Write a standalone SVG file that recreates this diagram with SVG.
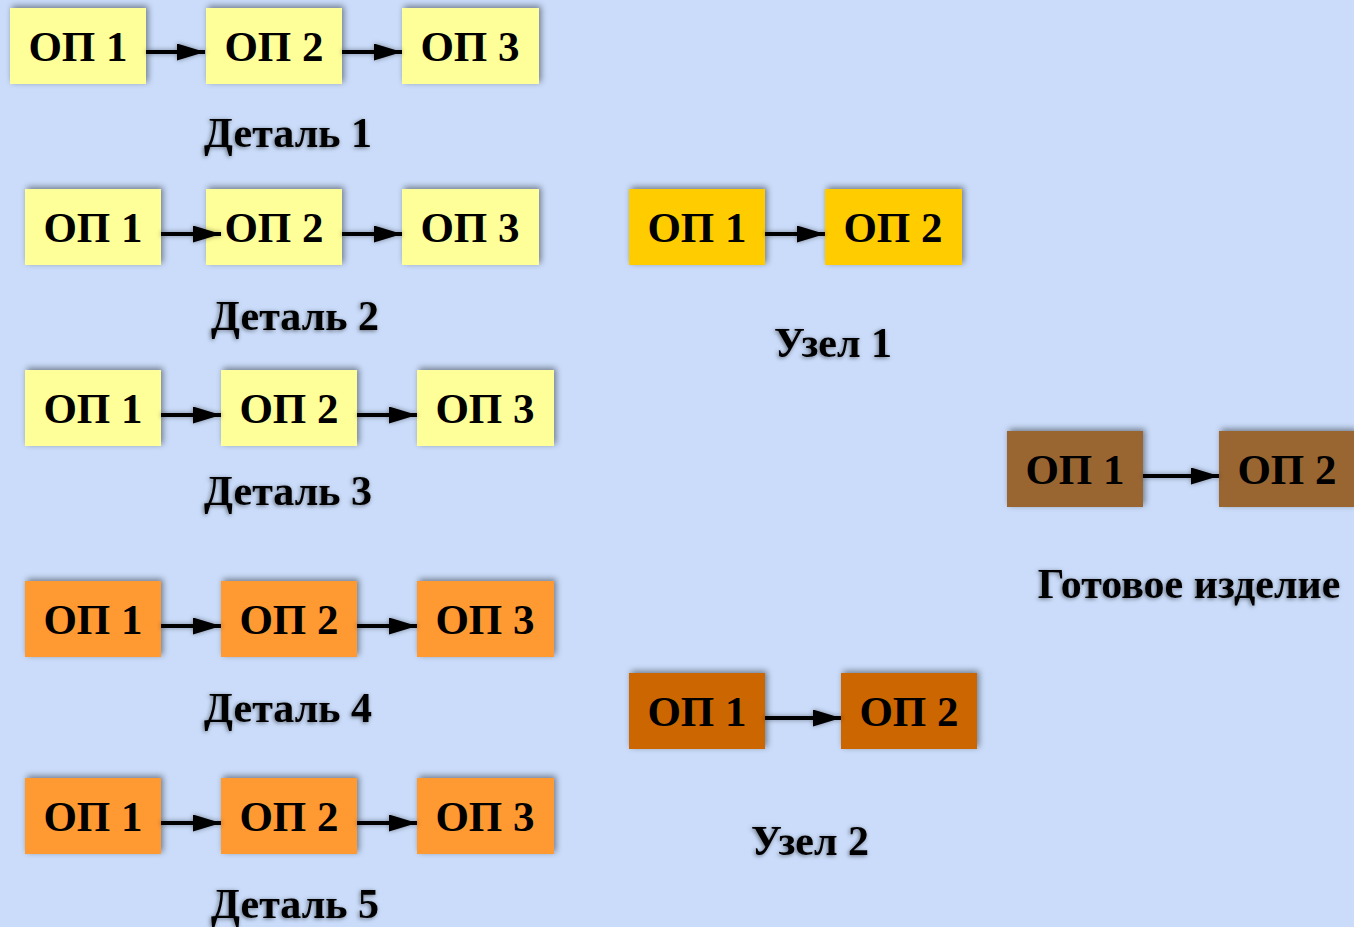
<svg xmlns="http://www.w3.org/2000/svg" width="1354" height="927" viewBox="0 0 1354 927">
<defs>
<filter id="bs" x="-20%" y="-30%" width="140%" height="160%">
<feDropShadow dx="2" dy="-2" stdDeviation="3" flood-color="#000" flood-opacity="0.45"/>
</filter>
<filter id="ts" x="-10%" y="-30%" width="120%" height="160%">
<feDropShadow dx="-1" dy="1" stdDeviation="2" flood-color="#000" flood-opacity="0.5"/>
</filter>
<filter id="cs" filterUnits="userSpaceOnUse" x="0" y="0" width="1354" height="927">
<feDropShadow dx="0" dy="0" stdDeviation="2.5" flood-color="#000" flood-opacity="0.4"/>
</filter>
<marker id="ah" viewBox="0 0 28 17" refX="28" refY="8.5" markerWidth="28" markerHeight="17" markerUnits="userSpaceOnUse" orient="auto">
<path d="M0,0 L28,8.5 L0,17 Z" fill="#000"/>
</marker>
<style>
.b{filter:url(#bs)}
.y{fill:#FFFF99}
.g{fill:#FFCC00}
.o{fill:#FF9933}
.d{fill:#CC6600}
.br{fill:#996633}
.t{font-family:"Liberation Serif","Times New Roman",serif;font-weight:bold;font-size:43px;fill:#000;text-anchor:middle}
.l{font-family:"Liberation Serif","Times New Roman",serif;font-weight:bold;font-size:42px;fill:#000;text-anchor:middle;filter:url(#ts)}
.c{stroke:#000;stroke-width:4;fill:none;marker-end:url(#ah)}
</style>
</defs>
<rect width="1354" height="927" fill="#CADCFA"/>

<g id="d1">
<g id="d1o1"><rect class="b y" x="10" y="8" width="136" height="76"/><text class="t" x="78" y="61">ОП 1</text></g>
<g id="d1o2"><rect class="b y" x="206" y="8" width="136" height="76"/><text class="t" x="274" y="61">ОП 2</text></g>
<g id="d1o3"><rect class="b y" x="402" y="8" width="137" height="76"/><text class="t" x="470" y="61">ОП 3</text></g>
<text class="l" x="288" y="147">Деталь 1</text>
</g>

<g id="d2">
<g id="d2o1"><rect class="b y" x="25" y="189" width="136" height="76"/><text class="t" x="93" y="242">ОП 1</text></g>
<g id="d2o2"><rect class="b y" x="206" y="189" width="136" height="76"/><text class="t" x="274" y="242">ОП 2</text></g>
<g id="d2o3"><rect class="b y" x="402" y="189" width="137" height="76"/><text class="t" x="470" y="242">ОП 3</text></g>
<text class="l" x="295" y="330">Деталь 2</text>
</g>

<g id="d3">
<g id="d3o1"><rect class="b y" x="25" y="370" width="136" height="76"/><text class="t" x="93" y="423">ОП 1</text></g>
<g id="d3o2"><rect class="b y" x="221" y="370" width="136" height="76"/><text class="t" x="289" y="423">ОП 2</text></g>
<g id="d3o3"><rect class="b y" x="417" y="370" width="137" height="76"/><text class="t" x="485" y="423">ОП 3</text></g>
<text class="l" x="288" y="505">Деталь 3</text>
</g>

<g id="d4">
<g id="d4o1"><rect class="b o" x="25" y="581" width="136" height="76"/><text class="t" x="93" y="634">ОП 1</text></g>
<g id="d4o2"><rect class="b o" x="221" y="581" width="136" height="76"/><text class="t" x="289" y="634">ОП 2</text></g>
<g id="d4o3"><rect class="b o" x="417" y="581" width="137" height="76"/><text class="t" x="485" y="634">ОП 3</text></g>
<text class="l" x="288" y="722">Деталь 4</text>
</g>

<g id="d5">
<g id="d5o1"><rect class="b o" x="25" y="778" width="136" height="76"/><text class="t" x="93" y="831">ОП 1</text></g>
<g id="d5o2"><rect class="b o" x="221" y="778" width="136" height="76"/><text class="t" x="289" y="831">ОП 2</text></g>
<g id="d5o3"><rect class="b o" x="417" y="778" width="137" height="76"/><text class="t" x="485" y="831">ОП 3</text></g>
<text class="l" x="295" y="918">Деталь 5</text>
</g>

<g id="u1">
<g id="u1o1"><rect class="b g" x="629" y="189" width="136" height="76"/><text class="t" x="697" y="242">ОП 1</text></g>
<g id="u1o2"><rect class="b g" x="825" y="189" width="137" height="76"/><text class="t" x="893" y="242">ОП 2</text></g>
<text class="l" x="833" y="357">Узел 1</text>
</g>

<g id="u2">
<g id="u2o1"><rect class="b d" x="629" y="673" width="136" height="76"/><text class="t" x="697" y="726">ОП 1</text></g>
<g id="u2o2"><rect class="b d" x="841" y="673" width="136" height="76"/><text class="t" x="909" y="726">ОП 2</text></g>
<text class="l" x="810" y="855">Узел 2</text>
</g>

<g id="gi">
<g id="gio1"><rect class="b br" x="1007" y="431" width="136" height="76"/><text class="t" x="1075" y="484">ОП 1</text></g>
<g id="gio2"><rect class="b br" x="1219" y="431" width="136" height="76"/><text class="t" x="1287" y="484">ОП 2</text></g>
<text class="l" x="1189" y="598">Готовое изделие</text>
</g>

<g id="connectors" filter="url(#cs)">
<path class="c" d="M146,52 H205"/>
<path class="c" d="M342,52 H402"/>
<path class="c" d="M161,234 H221"/>
<path class="c" d="M342,234 H402"/>
<path class="c" d="M161,415 H221"/>
<path class="c" d="M357,415 H417"/>
<path class="c" d="M161,626 H221"/>
<path class="c" d="M357,626 H417"/>
<path class="c" d="M161,823 H221"/>
<path class="c" d="M357,823 H417"/>
<path class="c" d="M765,234 H825"/>
<path class="c" d="M765,718 H841"/>
<path class="c" d="M1143,476 H1219"/>
</g>
</svg>
